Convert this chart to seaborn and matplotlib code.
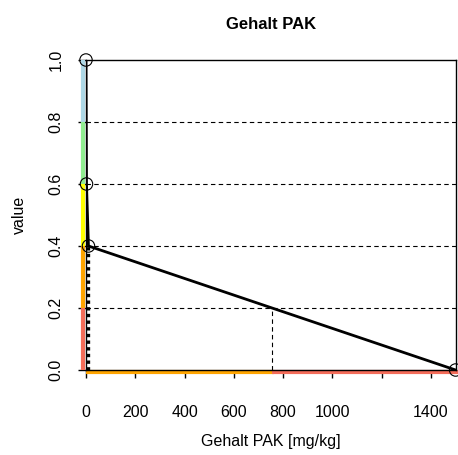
import numpy as np
import pandas as pd
import seaborn as sns
import matplotlib
matplotlib.use("Agg")
import matplotlib.pyplot as plt

sns.set_style("white")
plt.rcParams['font.family'] = ['Liberation Sans', 'DejaVu Sans']
plt.rcParams['text.color'] = 'black'
plt.rcParams['axes.labelcolor'] = 'black'
plt.rcParams['xtick.color'] = 'black'
plt.rcParams['ytick.color'] = 'black'

# curve points (Gehalt PAK -> value)
gehalt = [0, 2, 10, 1500]
value = [1.0, 0.6, 0.4, 0.0]

# class bands on the value axis
band_edges = [0.0, 0.2, 0.4, 0.6, 0.8, 1.0]
band_colors = ["#F46D5A", "#FFA500", "#FFFF00", "#90EE90", "#ADD8E6"]
grid_levels = [0.2, 0.4, 0.6, 0.8]

# bands on the x axis
x_edges = [0, 755, 1500]
x_colors = ["#FFA500", "#F46D5A"]

xticks = [0, 200, 400, 600, 800, 1000, 1200, 1400]
xticklabels = ["0", "200", "400", "600", "800", "1000", "", "1400"]
yticks = [0.0, 0.2, 0.4, 0.6, 0.8, 1.0]

df = pd.DataFrame({"gehalt": gehalt, "value": value})

fig = plt.figure(figsize=(4.58, 4.55), dpi=100)
ax = fig.add_axes([86/458, 85/455, 369.6/458, 310/455])
ax.set_xlim(0, 1500)
ax.set_ylim(0, 1)

# colored bands just outside the axes
for i, c in enumerate(band_colors):
    ax.plot([-12, -12], [band_edges[i], band_edges[i+1]], color=c, lw=3,
            solid_capstyle="butt", clip_on=False, zorder=1)
for i, c in enumerate(x_colors):
    ax.plot([x_edges[i], x_edges[i+1] + 10], [-0.008, -0.008], color=c, lw=3,
            solid_capstyle="butt", clip_on=False, zorder=1)

# dashed reference lines
for lv in grid_levels:
    ax.plot([0, 1500], [lv, lv], color="black", lw=0.8, ls=(0, (4, 3)), zorder=2)
ax.plot([755, 755], [0, 0.2], color="black", lw=0.8, ls=(0, (4, 3)), zorder=2)

# dotted vertical at last break
ax.plot([gehalt[2], gehalt[2]], [0, value[2]], color="black", lw=2.4,
        ls=(0, (1, 1)), zorder=3)

sns.lineplot(data=df, x="gehalt", y="value", sort=False, estimator=None,
             color="black", lw=2, ax=ax, zorder=4)
sns.scatterplot(data=df, x="gehalt", y="value", s=80, facecolor="none",
                edgecolor="black", linewidth=0.8, ax=ax, zorder=5, clip_on=False)

for sp in ax.spines.values():
    sp.set_color("black")
    sp.set_linewidth(1)

ax.set_xticks(xticks)
ax.set_xticklabels(xticklabels)
ax.set_yticks(yticks)
ax.set_yticklabels(["0.0", "0.2", "0.4", "0.6", "0.8", "1.0"], rotation=90, va="center")
ax.tick_params(direction="out", length=6, width=1, color="black", labelcolor="black",
               labelsize=11.5, bottom=True, left=True)
ax.tick_params(axis="x", pad=19)
ax.tick_params(axis="y", pad=10)
ax.set_xlabel("Gehalt PAK [mg/kg]", fontsize=11.5, labelpad=10, color="black")
ax.set_ylabel("value", fontsize=11.5, labelpad=16, color="black")
ax.set_title("Gehalt PAK", fontsize=12, fontweight="bold", pad=22, color="black")

fig.savefig("out.png", dpi=100)
